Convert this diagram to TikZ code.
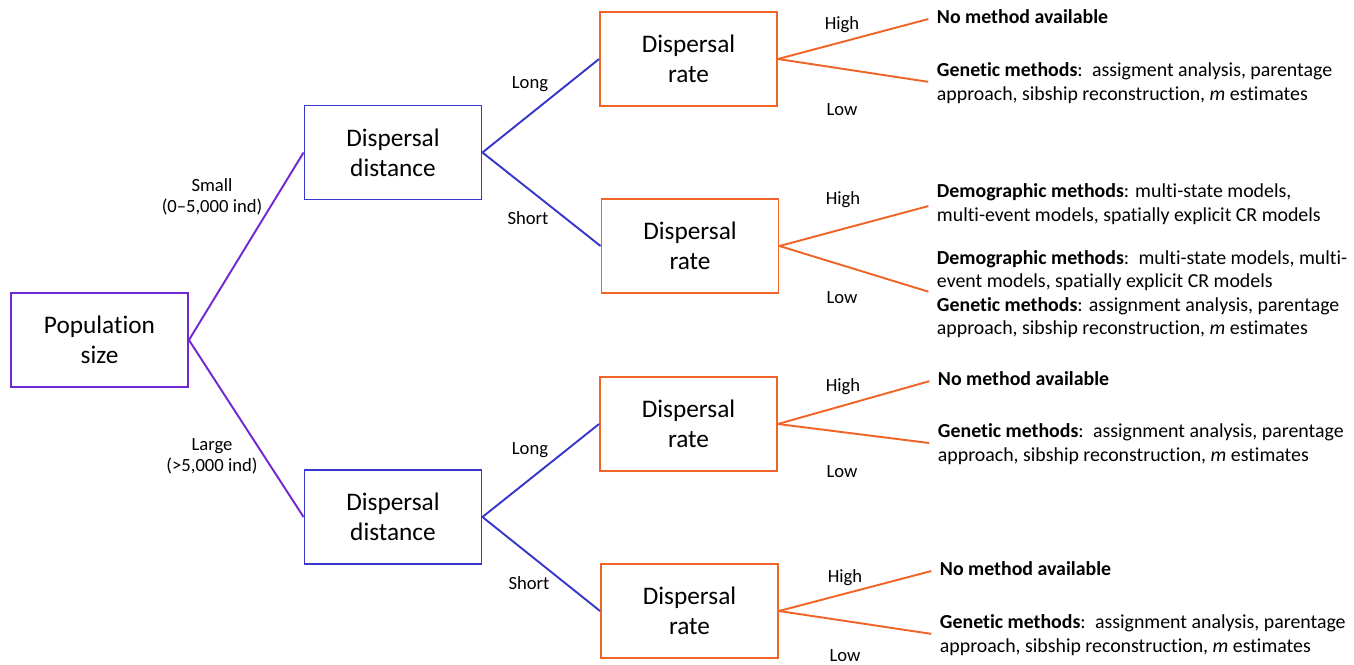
\documentclass[tikz,border=0pt]{standalone}
\usepackage{fontspec}
\setmainfont{Carlito}[Ligatures=NoCommon]
\definecolor{popviolet}{RGB}{112,40,210}
\definecolor{distblue}{RGB}{55,55,205}
\definecolor{rateorange}{RGB}{240,100,40}

\begin{document}
\begin{tikzpicture}[x=0.02cm,y=-0.02cm,line width=1.1pt]
  \tikzstyle{box}=[draw,rectangle,minimum width=3.54cm,minimum height=1.88cm,
                   align=center,font=\fontsize{14.4}{17}\selectfont]
  \tikzstyle{branch}=[align=center,inner sep=0pt,font=\fontsize{10.6}{12}\selectfont]
  \tikzstyle{method}=[anchor=west,align=left,inner sep=0pt,
                      font=\fontsize{11.3}{13.4}\selectfont]

  \useasboundingbox (0,0) rectangle (1354,664);

  \node[box,draw=popviolet] (P)  at (99.5,340) {Population\\size};
  \node[box,draw=distblue]  (D1) at (393,152.5) {Dispersal\\distance};
  \node[box,draw=distblue]  (D2) at (393,517)   {Dispersal\\distance};
  \node[box,draw=rateorange] (R1) at (688.5,59)  {Dispersal\\rate};
  \node[box,draw=rateorange] (R2) at (690,246)   {Dispersal\\rate};
  \node[box,draw=rateorange] (R3) at (688.5,424) {Dispersal\\rate};
  \node[box,draw=rateorange] (R4) at (689.5,611) {Dispersal\\rate};

  % method texts
  \node[method] (T1) at (936,17) {\textbf{No method available}};
  \node[method] (T2) at (936,83) {\textbf{Genetic methods}:\, assigment analysis, parentage\\approach, sibship reconstruction, \textit{m} estimates};
  \node[method] (T3) at (936,204) {\textbf{Demographic methods}: multi-state models,\\multi-event models, spatially explicit CR models};
  \node[method] (T4) at (936,294) {\textbf{Demographic methods}:\, multi-state models, multi-\\event models, spatially explicit CR models\\\textbf{Genetic methods}: assignment analysis, parentage\\approach, sibship reconstruction, \textit{m} estimates};
  \node[method] (T5) at (937,379) {\textbf{No method available}};
  \node[method] (T6) at (937,444) {\textbf{Genetic methods}:\, assignment analysis, parentage\\approach, sibship reconstruction, \textit{m} estimates};
  \node[method] (T7) at (939,569) {\textbf{No method available}};
  \node[method] (T8) at (939,635) {\textbf{Genetic methods}:\, assignment analysis, parentage\\approach, sibship reconstruction, \textit{m} estimates};

  % branch labels
  \node[branch] (small) at (212,197) {Small\\(0--5,000 ind)};
  \node[branch] (large) at (212,456) {Large\\(>5,000 ind)};
  \node[branch] (long1)  at (530,84)  {Long};
  \node[branch] (short1) at (528,218) {Short};
  \node[branch] (long2)  at (530,450) {Long};
  \node[branch] (short2) at (529,583) {Short};
  \node[branch] (high1) at (842,25)  {High};
  \node[branch] (low1)  at (842,110) {Low};
  \node[branch] (high2) at (843,200) {High};
  \node[branch] (low2)  at (842,298) {Low};
  \node[branch] (high3) at (843,387) {High};
  \node[branch] (low3)  at (842,472) {Low};
  \node[branch] (high4) at (845,578) {High};
  \node[branch] (low4)  at (845,656) {Low};

  \path[popviolet] (P.east) edge (D1.west)
                   (P.east) edge (D2.west);
  \path[distblue] (D1.east) edge (R1.west)
                  (D1.east) edge (R2.west)
                  (D2.east) edge (R3.west)
                  (D2.east) edge (R4.west);
  \path[rateorange,shorten >=4.5pt]
        (R1.east) edge (T1.west)
        (R1.east) edge (T2.west)
        (R2.east) edge (T3.west)
        (R2.east) edge (T4.west)
        (R3.east) edge (T5.west)
        (R3.east) edge (T6.west)
        (R4.east) edge (T7.west)
        (R4.east) edge (T8.west);
\end{tikzpicture}
\end{document}
